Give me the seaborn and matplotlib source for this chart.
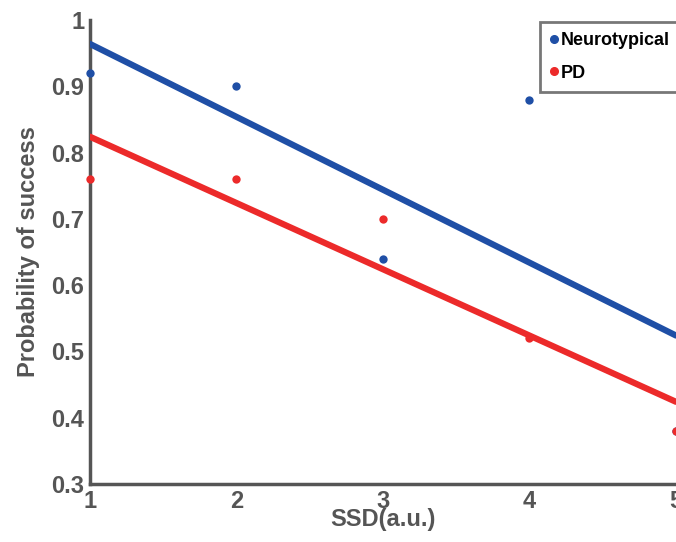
import numpy as np
import pandas as pd
import matplotlib
matplotlib.use("Agg")
import matplotlib.pyplot as plt
import seaborn as sns
from matplotlib.lines import Line2D

ssd = [1, 2, 3, 4, 5]
neuro = [0.92, 0.90, 0.64, 0.88, 0.38]
pd_vals = [0.76, 0.76, 0.70, 0.52, 0.38]
series_names = ["Neurotypical", "PD"]
colors = ["#1f4fa6", "#ec2a2a"]
yticks = [0.3, 0.4, 0.5, 0.6, 0.7, 0.8, 0.9, 1.0]
yticklabels = ["0.3", "0.4", "0.5", "0.6", "0.7", "0.8", "0.9", "1"]

sns.set_style("white")
plt.rcParams['font.family'] = ['Liberation Sans', 'DejaVu Sans']

fig = plt.figure(figsize=(6.76, 5.42), dpi=100)
ax = fig.add_axes([0.133, 0.107, 0.867, 0.856])
ax.set_xlim(1, 5)
ax.set_ylim(0.3, 1.0)

gray = "#555555"
for vals, col in zip([neuro, pd_vals], colors):
    sns.regplot(x=ssd, y=vals, ax=ax, ci=None, truncate=True,
                scatter_kws=dict(s=36, color=col, alpha=1, clip_on=False, zorder=5, linewidths=0),
                line_kws=dict(color=col, lw=4.5, zorder=3))

for s in ["top", "right"]:
    ax.spines[s].set_visible(False)
for s in ["left", "bottom"]:
    ax.spines[s].set_color(gray)
    ax.spines[s].set_linewidth(2.5)
    ax.spines[s].set_zorder(2)

ax.set_xticks(ssd)
ax.set_xticklabels([str(v) for v in ssd])
ax.set_yticks(yticks)
ax.set_yticklabels(yticklabels)
ax.tick_params(axis='both', direction='in', length=7, width=2.5, color=gray,
               labelsize=17, labelcolor=gray, pad=4)
for lab in ax.get_xticklabels() + ax.get_yticklabels():
    lab.set_fontweight('bold')

ax.set_xlabel("SSD(a.u.)", fontsize=17, fontweight='bold', color=gray, labelpad=-3)
ax.set_ylabel("Probability of success", fontsize=17, fontweight='bold', color=gray, labelpad=8)

handles = [Line2D([], [], marker='o', ls='', color=c, markersize=5.5) for c in colors]
leg = ax.legend(handles, series_names, loc='upper left', bbox_to_anchor=(0.768, 0.995),
                frameon=True, fancybox=False, fontsize=13, handlelength=0.4,
                handletextpad=0.2, labelspacing=0.85, borderpad=0.55, borderaxespad=0)
leg.get_frame().set_edgecolor(gray)
leg.get_frame().set_linewidth(2)
for t in leg.get_texts():
    t.set_fontweight('bold')
    t.set_color("black")

fig.savefig("out.png", dpi=100)
